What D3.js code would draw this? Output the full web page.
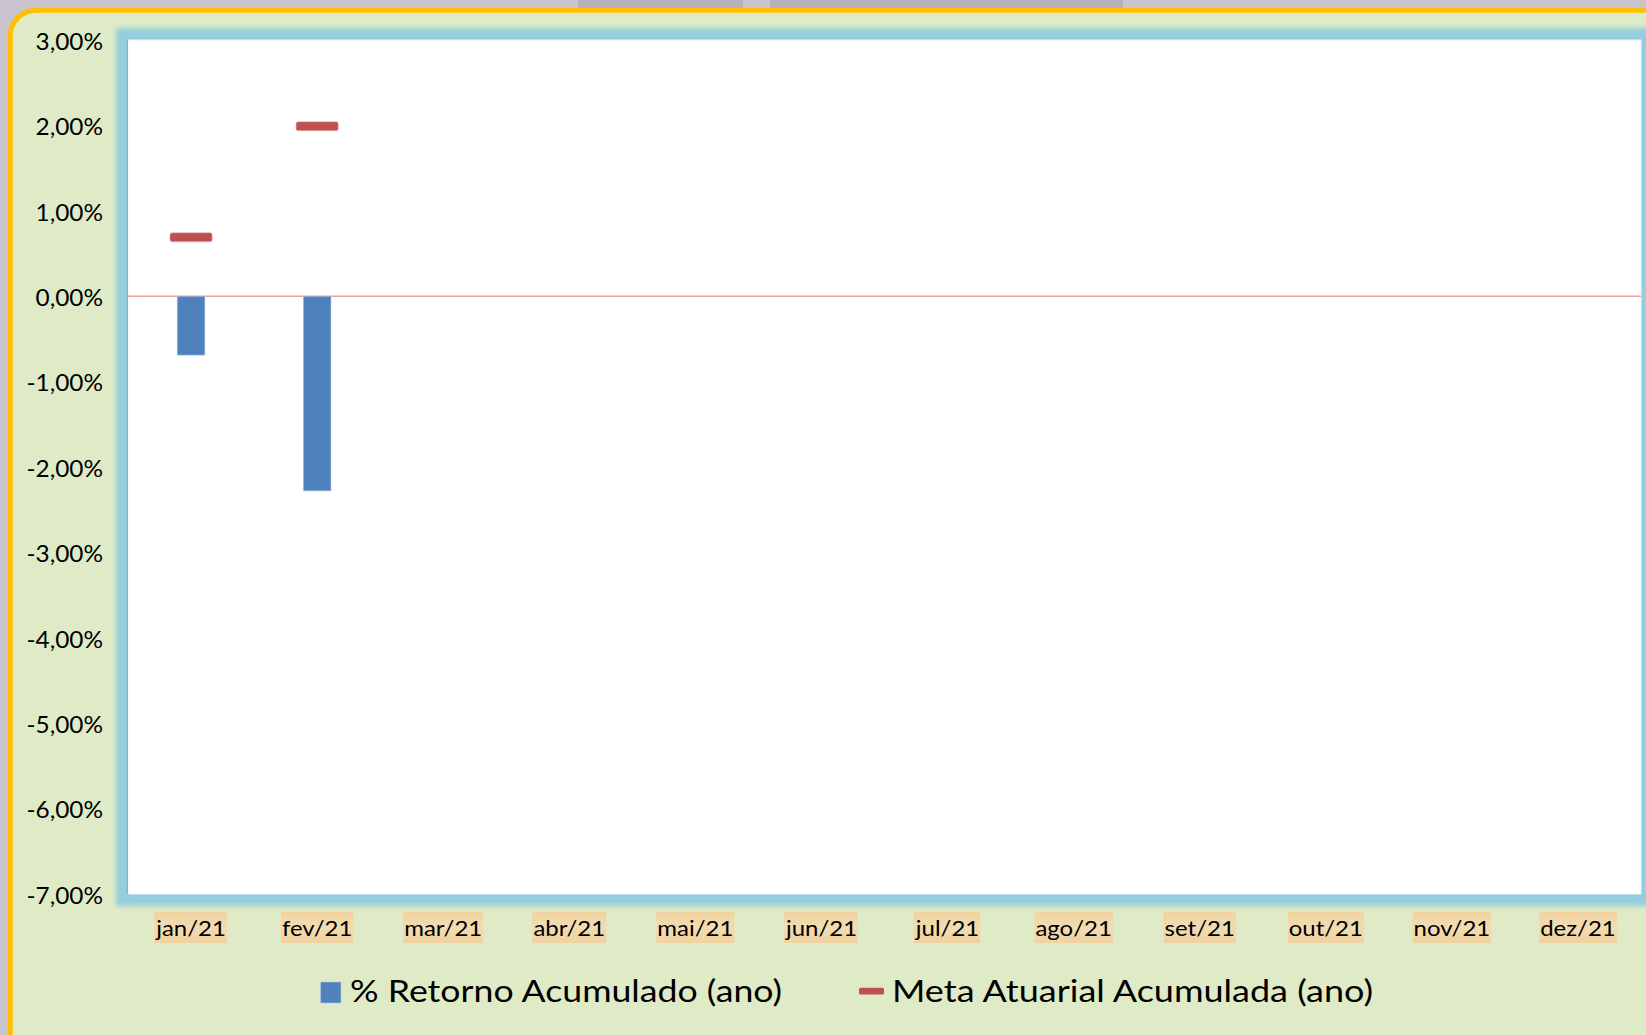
<!DOCTYPE html>
<html>
<head>
<meta charset="utf-8">
<script src="https://cdn.jsdelivr.net/npm/d3@7"></script>
<style>
  html, body { margin: 0; padding: 0; background: #c9c4ce; }
  svg { display: block; }
  text { font-family: Lato, "Open Sans", sans-serif; fill: #000; }
</style>
</head>
<body>
<svg id="chart" width="1646" height="1035"></svg>
<script>
// ---- data ----
const months = ["jan/21","fev/21","mar/21","abr/21","mai/21","jun/21","jul/21","ago/21","set/21","out/21","nov/21","dez/21"];
const retornoAcumulado = [-0.69, -2.28, null, null, null, null, null, null, null, null, null, null];
const metaAtuarial = [0.69, 1.99, null, null, null, null, null, null, null, null, null, null];
const yTicks = [3, 2, 1, 0, -1, -2, -3, -4, -5, -6, -7];
const seriesNames = ["% Retorno Acumulado (ano)", "Meta Atuarial Acumulada (ano)"];

// ---- layout ----
const W = 1646, H = 1035;
const plot = { left: 128, right: 1641, top: 40, bottom: 894 };
const svg = d3.select("#chart");

function stretch(sel, factor) {
  sel.each(function () {
    const len = this.getComputedTextLength();
    d3.select(this).attr("textLength", len * factor).attr("lengthAdjust", "spacingAndGlyphs");
  });
}

const defs = svg.append("defs");
const blur = defs.append("filter").attr("id", "glow")
  .attr("x", "-10%").attr("y", "-10%").attr("width", "120%").attr("height", "120%");
blur.append("feGaussianBlur").attr("stdDeviation", 2.5);

const tex = defs.append("linearGradient").attr("id", "tan").attr("x1", 0).attr("y1", 0).attr("x2", 0).attr("y2", 1);
tex.append("stop").attr("offset", "0%").attr("stop-color", "#f0d3a0");
tex.append("stop").attr("offset", "50%").attr("stop-color", "#f3dcb2");
tex.append("stop").attr("offset", "100%").attr("stop-color", "#efd29f");

// window background patches at top
svg.append("rect").attr("x", 0).attr("y", 0).attr("width", W).attr("height", H).attr("fill", "#c9c4ce");
svg.append("rect").attr("x", 578).attr("y", 0).attr("width", 165).attr("height", 8).attr("fill", "#b7b0bf");
svg.append("rect").attr("x", 770).attr("y", 0).attr("width", 353).attr("height", 8).attr("fill", "#b7b0bf");

// chart area
svg.append("rect")
  .attr("x", 10.2).attr("y", 10.2).attr("width", 1720).attr("height", 1050)
  .attr("rx", 26).attr("ry", 26)
  .attr("fill", "#dfebc6").attr("stroke", "#ffc000").attr("stroke-width", 5);

// plot glow
svg.append("rect")
  .attr("x", plot.left - 6).attr("y", plot.top - 6)
  .attr("width", plot.right - plot.left + 12).attr("height", plot.bottom - plot.top + 12)
  .attr("fill", "none").attr("stroke", "#93cddd").attr("stroke-width", 12)
  .attr("filter", "url(#glow)");
svg.append("rect")
  .attr("x", plot.left - 3).attr("y", plot.top - 3)
  .attr("width", plot.right - plot.left + 6).attr("height", plot.bottom - plot.top + 6)
  .attr("fill", "#93cddd");
svg.append("rect")
  .attr("x", plot.left).attr("y", plot.top)
  .attr("width", plot.right - plot.left).attr("height", plot.bottom - plot.top)
  .attr("fill", "#ffffff").attr("stroke", "#eaf6fa").attr("stroke-width", 1);

// scales
const x = d3.scaleBand().domain(months).range([plot.left, plot.right]);
const y = d3.scaleLinear().domain([-7, 3]).range([plot.bottom, plot.top]);

const fmt = v => (v < 0 ? "-" : "") + Math.abs(v).toFixed(2).replace(".", ",") + "%";

// y axis
const yAxis = svg.append("g")
  .attr("transform", `translate(${plot.left},0)`)
  .call(d3.axisLeft(y).tickValues(yTicks).tickSize(0).tickPadding(25).tickFormat(fmt));
yAxis.select(".domain").remove();
yAxis.selectAll("text")
  .style("font-family", "Lato, sans-serif").style("font-size", "23px").attr("fill", "#000")
  .attr("dy", "0.4em");
stretch(yAxis.selectAll("text"), 1.06);
svg.append("line")
  .attr("x1", plot.left - 0.5).attr("x2", plot.left - 0.5)
  .attr("y1", plot.top).attr("y2", plot.bottom)
  .attr("stroke", "#a8a8a8").attr("stroke-width", 1);

// x axis labels
const xAxis = svg.append("g")
  .attr("transform", `translate(0,${plot.bottom})`)
  .call(d3.axisBottom(x).tickSize(0).tickPadding(26));
xAxis.select(".domain").remove();
xAxis.selectAll("text")
  .style("font-family", "Lato, sans-serif").style("font-size", "22px").attr("fill", "#000");
stretch(xAxis.selectAll("text"), 1.09);
xAxis.selectAll(".tick").each(function () {
  const t = d3.select(this).select("text");
  const bb = t.node().getBBox();
  d3.select(this).insert("rect", "text")
    .attr("x", bb.x - 1).attr("y", 18).attr("width", bb.width + 2).attr("height", 31)
    .attr("fill", "url(#tan)");
});

// zero line
svg.append("line")
  .attr("x1", plot.left).attr("x2", plot.right)
  .attr("y1", y(0)).attr("y2", y(0))
  .attr("stroke", "#e9a3a3").attr("stroke-width", 1.5);

// bars
const bw = x.bandwidth() * 0.22;
svg.append("g").selectAll("rect")
  .data(months.map((m, i) => ({ m, v: retornoAcumulado[i] })).filter(d => d.v !== null))
  .join("rect")
  .attr("x", d => x(d.m) + x.bandwidth() / 2 - bw / 2)
  .attr("y", d => y(Math.max(0, d.v)))
  .attr("width", bw)
  .attr("height", d => Math.abs(y(d.v) - y(0)))
  .attr("fill", "#4f81bd").attr("stroke", "#b9cde5").attr("stroke-width", 0.6);

// meta markers
const mw = x.bandwidth() * 0.335, mh = 9;
svg.append("g").selectAll("rect")
  .data(months.map((m, i) => ({ m, v: metaAtuarial[i] })).filter(d => d.v !== null))
  .join("rect")
  .attr("x", d => x(d.m) + x.bandwidth() / 2 - mw / 2)
  .attr("y", d => y(d.v) - mh / 2)
  .attr("width", mw).attr("height", mh).attr("rx", 2)
  .attr("fill", "#c0504d").attr("stroke", "#e6b9b8").attr("stroke-width", 0.6);

// legend
const lg = svg.append("g");
lg.append("rect").attr("x", 320.5).attr("y", 982).attr("width", 20.5).attr("height", 21)
  .attr("fill", "#4f81bd").attr("stroke", "#b9cde5").attr("stroke-width", 0.6);
lg.append("text").attr("x", 350).attr("y", 1002).style("font-size", "30px")
  .attr("textLength", 432).attr("lengthAdjust", "spacingAndGlyphs").text(seriesNames[0]);
lg.append("rect").attr("x", 859).attr("y", 987.7).attr("width", 25).attr("height", 6.7).attr("rx", 1.5)
  .attr("fill", "#c0504d");
lg.append("text").attr("x", 892).attr("y", 1002).style("font-size", "30px")
  .attr("textLength", 481).attr("lengthAdjust", "spacingAndGlyphs").text(seriesNames[1]);
</script>
</body>
</html>
